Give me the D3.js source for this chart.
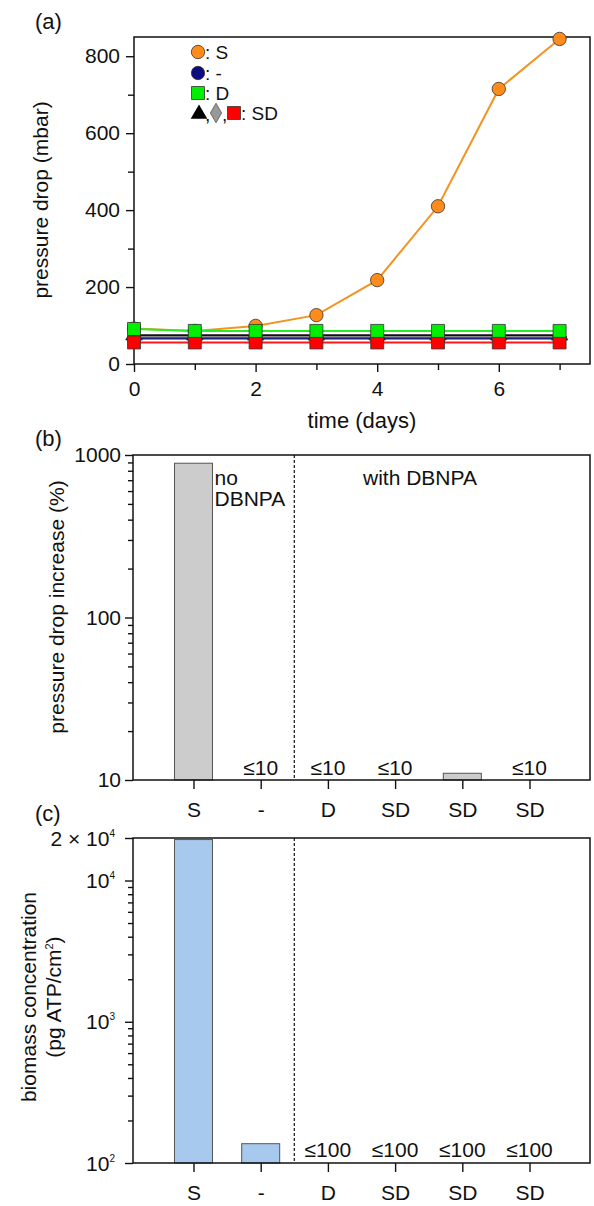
<!DOCTYPE html>
<html>
<head>
<meta charset="utf-8">
<script src="https://cdn.jsdelivr.net/npm/d3@7"></script>
<style>
  body { margin: 0; background: #fff; }
  svg text { font-family: "Liberation Sans", Arial, sans-serif; fill: #111; }
</style>
</head>
<body>
<div id="chart"></div>
<script>
const width = 594, height = 1206;

// (a) pressure drop vs time
const days = [0, 1, 2, 3, 4, 5, 6, 7];
const dpS    = [92, 86, 99, 127, 218, 410, 715, 845];
const dpNone = [66, 66, 66, 66, 66, 66, 66, 66];
const dpD    = [91, 86, 86, 86, 86, 86, 86, 86];
const dpSD1  = [75, 75, 75, 75, 75, 75, 75, 75];
const dpSD2  = [70, 70, 70, 70, 70, 70, 70, 70];
const dpSD3  = [56, 56, 56, 56, 56, 56, 56, 56];
const yTicksA = [0, 200, 400, 600, 800];
const xTicksA = [0, 2, 4, 6];

// (b) pressure drop increase, (c) biomass
const groups = ["S", "-", "D", "SD", "SD", "SD"];
const increase = [890, null, null, null, 11, null];
const increaseNotes = ["", "≤10", "≤10", "≤10", "", "≤10"];
const biomass = [19500, 137, null, null, null, null];
const biomassNotes = ["", "", "≤100", "≤100", "≤100", "≤100"];

const FS = 21;

const svg = d3.select("#chart").append("svg")
  .attr("width", width)
  .attr("height", height);

function styleAxis(g) {
  g.select(".domain").remove();
  g.selectAll(".tick line").attr("stroke", "#111").attr("stroke-width", 1.4);
  g.selectAll(".tick text").attr("font-size", FS).attr("fill", "#111")
    .attr("font-family", "Liberation Sans, Arial, sans-serif");
}

/* ---------- panel (a) ---------- */
const ax = d3.scaleLinear().domain([0, 7.5]).range([134, 590]);
const ay = d3.scaleLinear().domain([0, 850]).range([364, 37]);

svg.append("g").attr("transform", "translate(0,364)")
  .call(d3.axisBottom(ax).tickValues([1, 3, 5, 7]).tickSize(6).tickFormat(""))
  .call(styleAxis);
svg.append("g").attr("transform", "translate(0,364)")
  .call(d3.axisBottom(ax).tickValues(xTicksA).tickSize(8).tickPadding(9))
  .call(styleAxis);
svg.append("g").attr("transform", "translate(134,0)")
  .call(d3.axisLeft(ay).tickValues([100, 300, 500, 700]).tickSize(6).tickFormat(""))
  .call(styleAxis);
svg.append("g").attr("transform", "translate(134,0)")
  .call(d3.axisLeft(ay).tickValues(yTicksA).tickSize(8).tickPadding(6))
  .call(styleAxis);

svg.append("rect").attr("x", 134).attr("y", 37).attr("width", 456).attr("height", 327)
  .attr("fill", "none").attr("stroke", "#111").attr("stroke-width", 1.5);

const seriesA = [
  {vals: dpSD1, line: "#111111", fill: "#000000", sym: d3.symbolTriangle, size: 120},
  {vals: dpSD2, line: "#8a8a8a", fill: "#999999", sym: d3.symbolDiamond, size: 110},
  {vals: dpNone, line: "#1c1c7a", fill: "#0c0c80", sym: d3.symbolCircle, size: 140},
  {vals: dpSD3, line: "#ff1a1a", fill: "#ff0000", sym: d3.symbolSquare, size: 169},
  {vals: dpS, line: "#f39422", fill: "#ff8c1a", sym: d3.symbolCircle, size: 140},
  {vals: dpD, line: "#22ee22", fill: "#00ee00", sym: d3.symbolSquare, size: 169}
];

const lineGen = d3.line().x((d, i) => ax(days[i])).y(d => ay(d));

seriesA.forEach(s => {
  svg.append("path").datum(s.vals)
    .attr("fill", "none").attr("stroke", s.line).attr("stroke-width", 2)
    .attr("d", lineGen);
});
seriesA.forEach(s => {
  svg.append("g").selectAll("path").data(s.vals).join("path")
    .attr("transform", (d, i) => `translate(${ax(days[i])},${ay(d)})`)
    .attr("d", d3.symbol(s.sym, s.size))
    .attr("fill", s.fill).attr("stroke", "#333").attr("stroke-width", 0.8);
});

// legend
const leg = svg.append("g").attr("font-size", 19);
const legRows = [
  {y: 52, sym: d3.symbolCircle, fill: "#ff8c1a", size: 140, text: ": S"},
  {y: 73, sym: d3.symbolCircle, fill: "#0c0c80", size: 140, text: ": -"},
  {y: 93, sym: d3.symbolSquare, fill: "#00ee00", size: 169, text: ": D"}
];
legRows.forEach(r => {
  leg.append("path").attr("transform", `translate(198,${r.y})`)
    .attr("d", d3.symbol(r.sym, r.size)).attr("fill", r.fill)
    .attr("stroke", "#333").attr("stroke-width", 0.8);
  leg.append("text").attr("x", 205).attr("y", r.y + 7).text(r.text);
});
leg.append("path").attr("transform", "translate(199,114)")
  .attr("d", d3.symbol(d3.symbolTriangle, 120)).attr("fill", "#000");
leg.append("text").attr("x", 205).attr("y", 121).text(",");
leg.append("path").attr("transform", "translate(216,113)")
  .attr("d", d3.symbol(d3.symbolDiamond, 110)).attr("fill", "#999")
  .attr("stroke", "#555").attr("stroke-width", 0.8);
leg.append("text").attr("x", 222).attr("y", 121).text(",");
leg.append("path").attr("transform", "translate(234,113)")
  .attr("d", d3.symbol(d3.symbolSquare, 169)).attr("fill", "#ff0000")
  .attr("stroke", "#333").attr("stroke-width", 0.8);
leg.append("text").attr("x", 241).attr("y", 120).text(": SD");

svg.append("text").attr("x", 35).attr("y", 29).attr("font-size", 22).text("(a)");
svg.append("text").attr("x", 362).attr("y", 428).attr("font-size", 22)
  .attr("text-anchor", "middle").text("time (days)");
svg.append("text").attr("transform", "translate(48,200) rotate(-90)")
  .attr("font-size", 21).attr("text-anchor", "middle").text("pressure drop (mbar)");

/* ---------- shared category scale ---------- */
const bx = d3.scalePoint().domain(d3.range(groups.length)).range([133, 590]).padding(0.9);
const barW = 38;
const splitX = (bx(1) + bx(2)) / 2;

/* ---------- panel (b) ---------- */
const by = d3.scaleLog().domain([10, 1000]).range([780, 455]);
const majB = [10, 100, 1000];
const minB = by.ticks().filter(v => !majB.includes(v));

svg.append("g").attr("transform", "translate(133,0)")
  .call(d3.axisLeft(by).tickValues(minB).tickSize(5).tickFormat(""))
  .call(styleAxis);
svg.append("g").attr("transform", "translate(133,0)")
  .call(d3.axisLeft(by).tickValues(majB).tickSize(8).tickPadding(4).tickFormat(d3.format("d")))
  .call(styleAxis);
svg.append("g").attr("transform", "translate(0,780)")
  .call(d3.axisBottom(bx).tickSize(9).tickPadding(13).tickFormat(i => groups[i]))
  .call(styleAxis);

svg.append("g").selectAll("rect")
  .data(increase.map((v, i) => ({v, i})).filter(d => d.v != null))
  .join("rect")
  .attr("x", d => bx(d.i) - barW / 2).attr("width", barW)
  .attr("y", d => by(d.v)).attr("height", d => 780 - by(d.v))
  .attr("fill", "#cccccc").attr("stroke", "#555").attr("stroke-width", 1);

svg.append("g").selectAll("text").data(increaseNotes).join("text")
  .attr("x", (d, i) => bx(i)).attr("y", 775)
  .attr("text-anchor", "middle").attr("font-size", FS).text(d => d);

svg.append("line").attr("x1", splitX).attr("x2", splitX).attr("y1", 455).attr("y2", 780)
  .attr("stroke", "#111").attr("stroke-width", 1.2).attr("stroke-dasharray", "3,2");
svg.append("rect").attr("x", 133).attr("y", 455).attr("width", 457).attr("height", 325)
  .attr("fill", "none").attr("stroke", "#111").attr("stroke-width", 1.5);

svg.append("text").attr("x", bx(0) + barW / 2 + 2).attr("y", 485).attr("font-size", FS).text("no");
svg.append("text").attr("x", bx(0) + barW / 2 + 2).attr("y", 506).attr("font-size", FS).text("DBNPA");
svg.append("text").attr("x", 420).attr("y", 485).attr("font-size", FS)
  .attr("text-anchor", "middle").text("with DBNPA");

svg.append("text").attr("x", 35).attr("y", 446).attr("font-size", 22).text("(b)");
svg.append("text").attr("transform", "translate(64,607) rotate(-90)")
  .attr("font-size", 21).attr("text-anchor", "middle").text("pressure drop increase (%)");

/* ---------- panel (c) ---------- */
const cy = d3.scaleLog().domain([100, 20000]).range([1163, 838]);
const majC = [100, 1000, 10000, 20000];
const minC = cy.ticks().filter(v => !majC.includes(v));

svg.append("g").attr("transform", "translate(133,0)")
  .call(d3.axisLeft(cy).tickValues(minC).tickSize(5).tickFormat(""))
  .call(styleAxis);
const cAxis = svg.append("g").attr("transform", "translate(133,0)")
  .call(d3.axisLeft(cy).tickValues(majC).tickSize(8).tickFormat(""))
  .call(styleAxis);
cAxis.selectAll(".tick").each(function(d) {
  const t = d3.select(this).append("text")
    .attr("x", -18).attr("y", 7).attr("text-anchor", "end")
    .attr("font-size", FS).attr("fill", "#111");
  const exp = Math.round(Math.log10(d));
  const mant = Math.round(d / Math.pow(10, exp));
  t.append("tspan").text(mant === 1 ? "10" : mant + " × 10");
  t.append("tspan").attr("dy", -9).attr("font-size", 10).text(exp);
});
svg.append("g").attr("transform", "translate(0,1163)")
  .call(d3.axisBottom(bx).tickSize(9).tickPadding(13).tickFormat(i => groups[i]))
  .call(styleAxis);

svg.append("g").selectAll("rect")
  .data(biomass.map((v, i) => ({v, i})).filter(d => d.v != null))
  .join("rect")
  .attr("x", d => bx(d.i) - barW / 2).attr("width", barW)
  .attr("y", d => cy(d.v)).attr("height", d => 1163 - cy(d.v))
  .attr("fill", "#a7c9ee").attr("stroke", "#555").attr("stroke-width", 1);

svg.append("g").selectAll("text").data(biomassNotes).join("text")
  .attr("x", (d, i) => bx(i)).attr("y", 1157)
  .attr("text-anchor", "middle").attr("font-size", FS).text(d => d);

svg.append("line").attr("x1", splitX).attr("x2", splitX).attr("y1", 838).attr("y2", 1163)
  .attr("stroke", "#111").attr("stroke-width", 1.2).attr("stroke-dasharray", "3,2");
svg.append("rect").attr("x", 133).attr("y", 838).attr("width", 457).attr("height", 325)
  .attr("fill", "none").attr("stroke", "#111").attr("stroke-width", 1.5);

svg.append("text").attr("x", 35).attr("y", 821).attr("font-size", 22).text("(c)");
const cLab = svg.append("text").attr("transform", "translate(0,997) rotate(-90)")
  .attr("font-size", 21).attr("text-anchor", "middle");
cLab.append("tspan").attr("x", 0).attr("y", 36).text("biomass concentration");
const l2 = cLab.append("tspan").attr("x", 0).attr("y", 61);
l2.append("tspan").text("(pg ATP/cm");
l2.append("tspan").attr("dy", -8).attr("font-size", 11).text("2");
l2.append("tspan").attr("dy", 8).text(")");
</script>
</body>
</html>
